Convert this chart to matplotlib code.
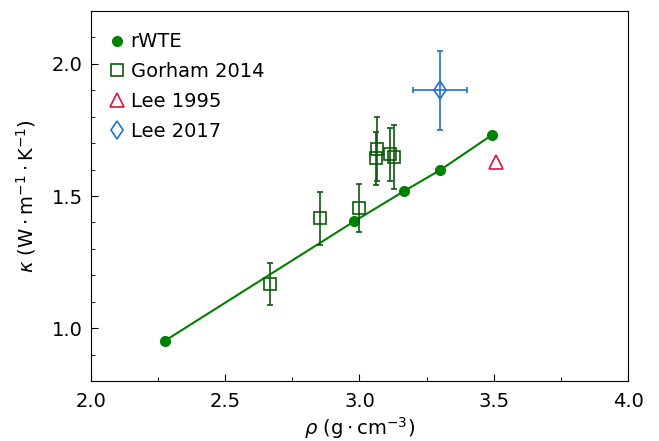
import matplotlib.pyplot as plt
from matplotlib.ticker import MultipleLocator
from matplotlib.lines import Line2D

# rWTE
rho_rwte = [2.275, 2.98, 3.165, 3.30, 3.495]
k_rwte = [0.952, 1.404, 1.518, 1.598, 1.732]

# Gorham 2014
rho_gor = [2.667, 2.853, 2.998, 3.062, 3.066, 3.115, 3.130]
k_gor = [1.166, 1.415, 1.455, 1.643, 1.678, 1.658, 1.648]
kerr_gor = [0.08, 0.10, 0.09, 0.10, 0.12, 0.10, 0.12]

# Lee 1995
rho_lee95 = [3.51]
k_lee95 = [1.63]

# Lee 2017
rho_lee17 = [3.30]
k_lee17 = [1.90]
rhoerr_lee17 = [0.10]
kerr_lee17 = [0.15]

c_gor = '#0b5a0b'
c_lee17 = '#1f6fd1'

plt.rcParams['font.size'] = 14
fig = plt.figure(figsize=(6.59, 4.41), dpi=100)
ax = fig.add_axes([0.138, 0.136, 0.815, 0.839])

ax.plot(rho_rwte, k_rwte, '-o', color='green', lw=1.5, ms=7)
ax.errorbar(rho_gor, k_gor, yerr=kerr_gor, fmt='s', mfc='none', mec=c_gor,
            ecolor=c_gor, ms=8, capsize=2.5, elinewidth=1.2, mew=1.2)
ax.plot(rho_lee95, k_lee95, '^', mfc='none', mec='crimson', ms=10.5, mew=1.2, ls='none')
ax.errorbar(rho_lee17, k_lee17, xerr=rhoerr_lee17, yerr=kerr_lee17, fmt='d',
            mfc='none', mec=c_lee17, ecolor=c_lee17, ms=9.5, capsize=2.5,
            elinewidth=1.2, mew=1.2)

handles = [
    Line2D([], [], marker='o', color='green', ls='none', ms=7),
    Line2D([], [], marker='s', mfc='none', mec=c_gor, ls='none', ms=8, mew=1.2),
    Line2D([], [], marker='^', mfc='none', mec='crimson', ls='none', ms=10.5, mew=1.2),
    Line2D([], [], marker='d', mfc='none', mec=c_lee17, ls='none', ms=9.5, mew=1.2),
]
labels = ['rWTE', 'Gorham 2014', 'Lee 1995', 'Lee 2017']

ax.set_xlim(2.0, 4.0)
ax.set_ylim(0.8, 2.2)
ax.xaxis.set_major_locator(MultipleLocator(0.5))
ax.xaxis.set_minor_locator(MultipleLocator(0.25))
ax.yaxis.set_major_locator(MultipleLocator(0.5))
ax.yaxis.set_minor_locator(MultipleLocator(0.1))
ax.tick_params(which='both', direction='in')
ax.tick_params(which='major', length=5)
ax.tick_params(which='minor', length=3)
ax.tick_params(axis='x', which='major', pad=8)
ax.tick_params(axis='y', which='major', pad=6)

ax.set_xlabel(r'$\rho\ (\mathrm{g\cdot cm^{-3}})$', labelpad=3)
ax.set_ylabel(r'$\kappa\ (\mathrm{W\cdot m^{-1}\cdot K^{-1}})$', labelpad=10)

ax.legend(handles, labels, loc='upper left', bbox_to_anchor=(0.0125, 0.963),
          borderaxespad=0, frameon=False, handletextpad=0.1,
          handlelength=1.2, labelspacing=0.55)

fig.savefig('out.png', dpi=100)
